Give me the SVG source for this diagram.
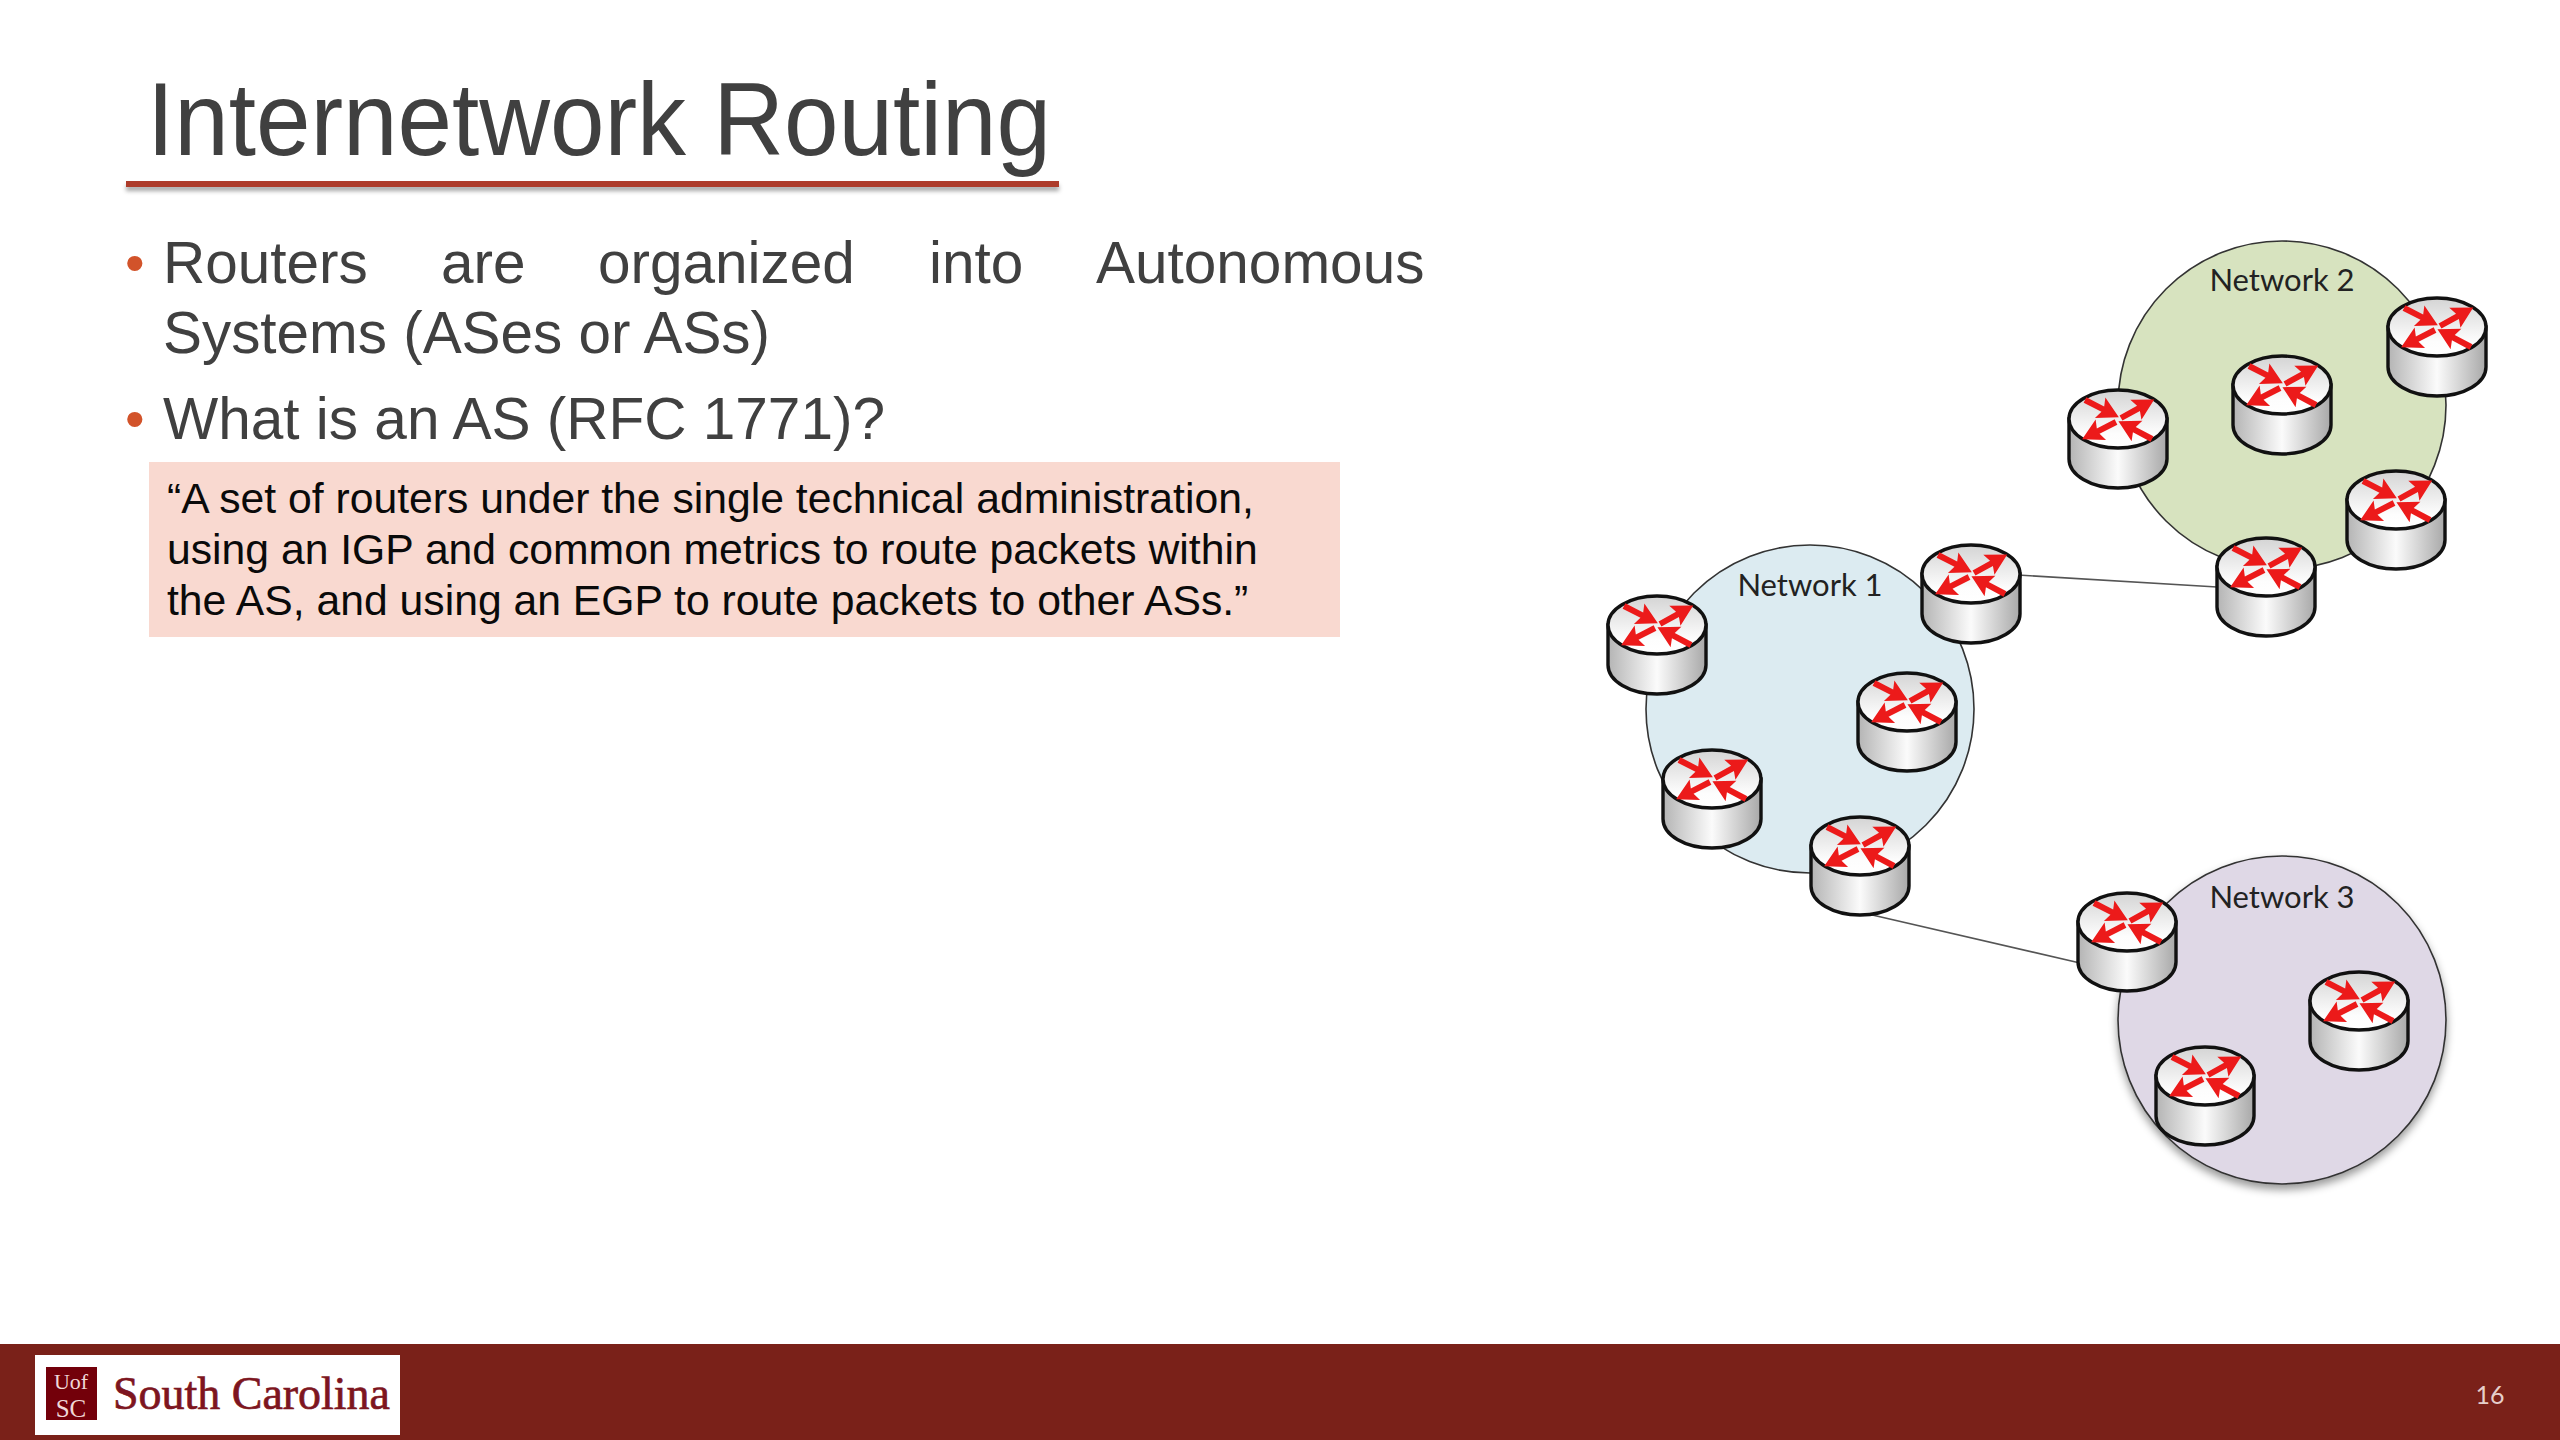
<svg xmlns="http://www.w3.org/2000/svg" xmlns:xlink="http://www.w3.org/1999/xlink" width="2560" height="1440" viewBox="0 0 2560 1440">
<style>
text{font-family:"Liberation Sans",Arial,sans-serif}
.title{font-size:104px;fill:#404040}
.body{font-size:60px;fill:#404040}
.bullet{font-size:56px;fill:#d2532a}
.quote{font-size:42.7px;fill:#0a0a0a}
.net{font-family:Lato,"Open Sans",sans-serif;font-size:31px;fill:#222;text-anchor:middle}
.cloud{stroke:#333;stroke-width:1.6}
.link{stroke:#555;stroke-width:1.6;fill:none}
</style>
<defs>
<linearGradient id="side" x1="0" y1="0" x2="1" y2="0">
<stop offset="0" stop-color="#b4b4b4"/><stop offset=".5" stop-color="#fbfbfb"/><stop offset="1" stop-color="#a8a8a8"/>
</linearGradient>
<linearGradient id="top" x1="0" y1="0" x2="0" y2="1">
<stop offset="0" stop-color="#d4d4d4"/><stop offset=".75" stop-color="#fdfdfd"/><stop offset="1" stop-color="#fff"/>
</linearGradient>
<filter id="sh" x="-10%" y="-10%" width="120%" height="125%">
<feDropShadow dx="0" dy="5" stdDeviation="4" flood-color="#000" flood-opacity=".4"/>
</filter>
<filter id="shr" x="-2%" y="-300%" width="104%" height="800%">
<feDropShadow dx="0" dy="4" stdDeviation="2" flood-color="#000" flood-opacity=".35"/>
</filter>
<path id="ar" fill="#ec1a1a" d="M0,-3H20L17,-11.5L38,0L17,11.5L20,3H0Z"/>
<g id="router">
<path fill="url(#side)" stroke="#111" stroke-width="3.4" d="M-49,29V69A49,29 0 0 0 49,69V29Z"/>
<ellipse cx="0" cy="29" rx="49" ry="29" fill="url(#top)" stroke="#111" stroke-width="3.4"/>
<use href="#ar" transform="translate(-33,10) rotate(27)"/>
<use href="#ar" transform="translate(34,49) rotate(208)"/>
<use href="#ar" transform="translate(3,28) rotate(-29)"/>
<use href="#ar" transform="translate(-2,32) rotate(153)"/>
</g>
</defs>
<rect width="2560" height="1440" fill="#fff"/>
<g id="title">
<text class="title" x="147" y="155" textLength="904" lengthAdjust="spacingAndGlyphs">Internetwork Routing</text>
<rect x="126" y="181" width="933" height="6" fill="#ad3b2b" filter="url(#shr)"/>
</g>
<g id="bullets">
<text class="bullet" x="125" y="282">•</text>
<text class="body" y="283" transform="scale(.975,1)"><tspan x="167.2">Routers</tspan><tspan x="452.3">are</tspan><tspan x="613.3">organized</tspan><tspan x="952.8">into</tspan><tspan x="1124.1">Autonomous</tspan></text>
<text class="body" x="163" y="353" textLength="607" lengthAdjust="spacingAndGlyphs">Systems (ASes or ASs)</text>
<text class="bullet" x="125" y="438">•</text>
<text class="body" x="163" y="439" textLength="722" lengthAdjust="spacingAndGlyphs">What is an AS (RFC 1771)?</text>
</g>
<g id="quote">
<rect x="149" y="462" width="1191" height="175" fill="#f9d9d0"/>
<text class="quote" x="167" y="513">“A set of routers under the single technical administration,</text>
<text class="quote" x="167" y="564">using an IGP and common metrics to route packets within</text>
<text class="quote" x="167" y="615">the AS, and using an EGP to route packets to other ASs.”</text>
</g>
<g id="network-1"><circle class="cloud" cx="1810" cy="709" r="164" fill="#dcebf1"/><text class="net" x="1810" y="596">Network 1</text></g>
<g id="network-2"><circle class="cloud" cx="2282" cy="405" r="164" fill="#d7e3bf"/><text class="net" x="2282" y="291">Network 2</text></g>
<g id="network-3"><circle class="cloud" cx="2282" cy="1020" r="164" fill="#dfd8e6" filter="url(#sh)"/><text class="net" x="2282" y="908">Network 3</text></g>
<g id="connectors">
<line class="link" x1="2018" y1="575" x2="2217" y2="587"/>
<line class="link" x1="1868" y1="914" x2="2080" y2="963"/>
</g>
<g id="r1"><use href="#router" x="1657" y="596"/></g>
<g id="r2"><use href="#router" x="1971" y="545"/></g>
<g id="r3"><use href="#router" x="1907" y="673"/></g>
<g id="r4"><use href="#router" x="1712" y="750"/></g>
<g id="r5"><use href="#router" x="1860" y="817"/></g>
<g id="r6"><use href="#router" x="2118" y="390"/></g>
<g id="r7"><use href="#router" x="2282" y="356"/></g>
<g id="r8"><use href="#router" x="2437" y="298"/></g>
<g id="r9"><use href="#router" x="2396" y="471"/></g>
<g id="r10"><use href="#router" x="2266" y="538"/></g>
<g id="r11"><use href="#router" x="2127" y="893"/></g>
<g id="r12"><use href="#router" x="2359" y="972"/></g>
<g id="r13"><use href="#router" x="2205" y="1047"/></g>
<g id="footer">
<rect x="0" y="1344" width="2560" height="96" fill="#7a2119"/>
<rect x="35" y="1355" width="365" height="80" fill="#fff"/>
<rect x="46" y="1367" width="51" height="53" fill="#73000a"/>
<text x="71" y="1389" text-anchor="middle" style="font-family:'Liberation Serif',serif;font-size:22px;fill:#f0d8d8">Uof</text>
<text x="71" y="1417" text-anchor="middle" style="font-family:'Liberation Serif',serif;font-size:25px;fill:#f0d8d8">SC</text>
<text x="113" y="1409" textLength="277" lengthAdjust="spacingAndGlyphs" style="font-family:'Liberation Serif',serif;font-size:47px;fill:#7d1520;stroke:#7d1520;stroke-width:.7">South Carolina</text>
<text x="2490" y="1404" text-anchor="middle" style="font-family:Lato,sans-serif;font-size:25px;fill:#e6cfcb">16</text>
</g>
</svg>
